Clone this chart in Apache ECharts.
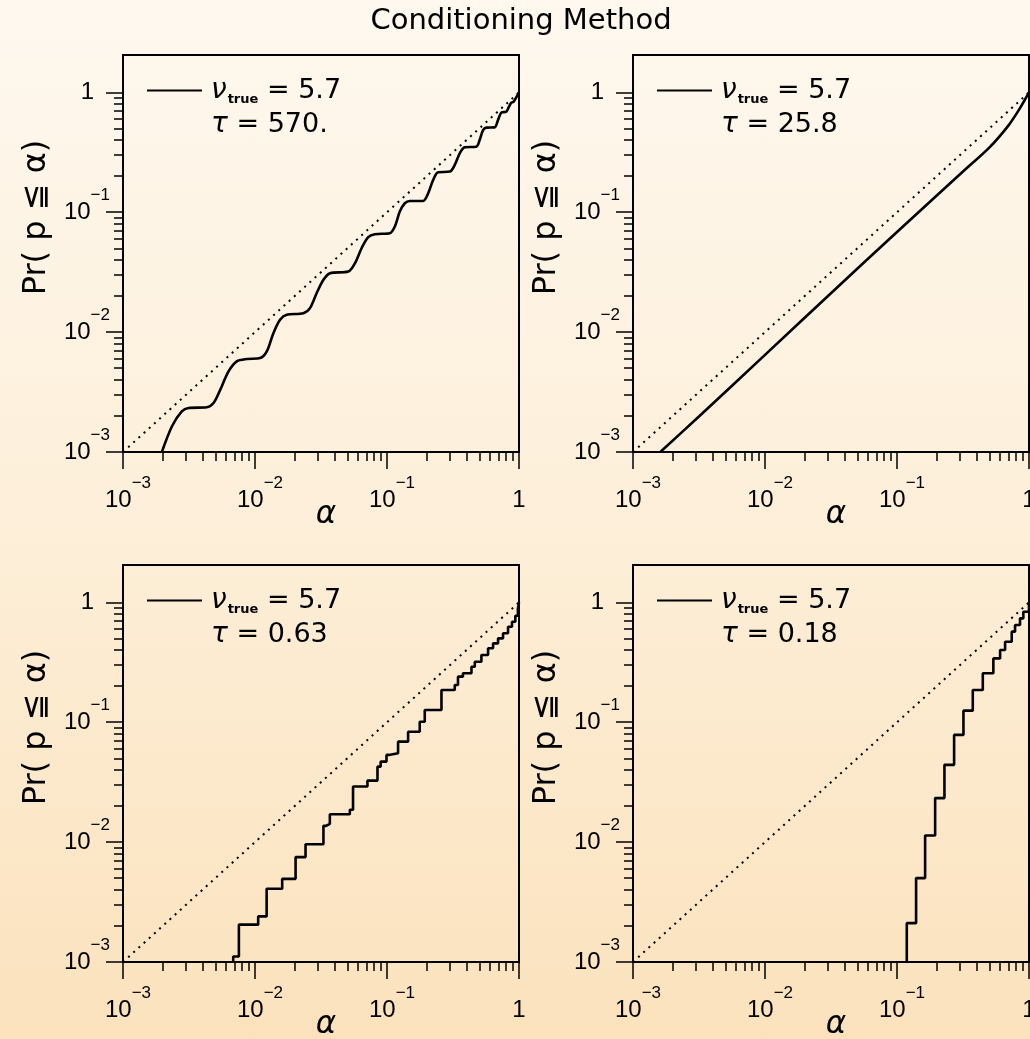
<!DOCTYPE html>
<html><head><meta charset="utf-8">
<script src="https://cdn.jsdelivr.net/npm/echarts@6/dist/echarts.min.js"></script>
<style>
html,body{margin:0;padding:0;}
#chart{width:1030px;height:1039px;background:linear-gradient(to bottom,#fef8ef 0%,#fdefd9 50%,#fbe2bd 100%);}
</style></head><body><div id="chart"></div>
<script>
// ---------- data ----------
const titleText = 'Conditioning Method';
const decadeExponents = [-3, -2, -1, 0];
const minorMultipliers = [2, 3, 4, 5, 6, 7, 8, 9];
const alphaRange = [0.001, 1];
const prRange = [0.001, 2.05];
const xName = 'α';
const yName = 'Pr( p ≦ α)';
const nuSymbol = 'ν';
const nuSub = 'true';
const nuValue = '5.7';
const tauValues = ['570.', '25.8', '0.63', '0.18'];

const diagAlpha = [0.001, 1];
const diagPr = [0.001, 1];

const p1Alpha = [0.00197, 0.00235, 0.00279, 0.00314, 0.00431, 0.00485, 0.00545, 0.0063, 0.00728, 0.00867, 0.01094, 0.01228, 0.01378, 0.01548, 0.01738, 0.02323, 0.0261, 0.0293, 0.033, 0.037, 0.0509, 0.0572, 0.0642, 0.0721, 0.0809, 0.105, 0.1147, 0.125, 0.1364, 0.149, 0.188, 0.205, 0.2236, 0.2439, 0.2987, 0.326, 0.3556, 0.388, 0.4753, 0.5036, 0.5343, 0.5662, 0.6546, 0.6935, 0.7345, 0.8013, 0.8394, 0.8745, 0.91, 0.944, 1];
const p1Pr = [0.001, 0.00164, 0.00218, 0.00233, 0.00236, 0.00256, 0.0033, 0.0047, 0.0057, 0.00596, 0.00607, 0.0069, 0.0098, 0.01267, 0.01394, 0.0144, 0.01585, 0.0211, 0.0273, 0.031, 0.032, 0.0376, 0.0501, 0.0619, 0.0656, 0.0668, 0.076, 0.1013, 0.1189, 0.1242, 0.1242, 0.1438, 0.1858, 0.2155, 0.2183, 0.2479, 0.3103, 0.348, 0.3524, 0.4009, 0.4853, 0.508, 0.5108, 0.5875, 0.6776, 0.69, 0.76, 0.8204, 0.836, 0.891, 1];

const p2Alpha = [0.00161, 0.00316, 0.01, 0.0316, 0.1, 0.3162, 0.5, 0.7, 0.85, 1];
const p2Pr = [0.001, 0.00198, 0.00646, 0.02113, 0.0684, 0.2188, 0.346, 0.531, 0.732, 1];

const p3Alpha = [0.00684, 0.00684, 0.00755, 0.01057, 0.01225, 0.01607, 0.0203, 0.02415, 0.033, 0.0345, 0.0369, 0.0523, 0.0553, 0.0711, 0.0847, 0.0895, 0.0991, 0.1033, 0.1213, 0.1445, 0.177, 0.1932, 0.2586, 0.326, 0.345, 0.376, 0.4365, 0.4625, 0.519, 0.583, 0.636, 0.694, 0.757, 0.826, 0.885, 0.938, 0.981, 1];
const p3Pr = [0.001, 0.00111, 0.00205, 0.0024, 0.00408, 0.00494, 0.0075, 0.0096, 0.01367, 0.0142, 0.0171, 0.0186, 0.0291, 0.0326, 0.0426, 0.0469, 0.0534, 0.0552, 0.0689, 0.0834, 0.101, 0.1266, 0.186, 0.2046, 0.24, 0.256, 0.29, 0.32, 0.364, 0.414, 0.455, 0.501, 0.552, 0.626, 0.689, 0.774, 0.891, 1];

const p4Alpha = [0.1186, 0.1186, 0.1395, 0.1633, 0.1945, 0.2288, 0.2708, 0.3187, 0.375, 0.4467, 0.537, 0.604, 0.659, 0.74, 0.784, 0.855, 0.906, 1];
const p4Pr = [0.001, 0.00211, 0.00501, 0.01137, 0.0233, 0.0441, 0.0784, 0.125, 0.186, 0.256, 0.341, 0.401, 0.47, 0.57, 0.647, 0.736, 0.836, 1];

// ---------- layout / style ----------
const panelLayout = [{left: 123, top: 55}, {left: 633, top: 55}, {left: 123, top: 565}, {left: 633, top: 565}];
const gridW = 396, gridH = 397;
const SANS = 'DejaVu Sans';
const NUM = 'Liberation Sans';
const INK = '#000';

const L = v => Math.log10(v);
const toPts = (xs, ys) => xs.map((x, i) => [L(x), L(ys[i])]);
const majorVals = decadeExponents.slice();
const minorVals = [];
decadeExponents.slice(0, -1).forEach(e => minorMultipliers.forEach(m => minorVals.push(e + L(m))));

const nuName = nuSymbol + ' ' + nuSub + ' = ' + nuValue;
const tauNames = tauValues.map(v => 'τ = ' + v);

function tickLabel(v, axis) {
  const e = Math.round(v);
  if (e === 0) return axis === 'x' ? '{onex|1}' : '{oney|1}';
  return (axis === 'x' ? '{bx|10}' : '{b|10}') + '{s|−' + (-e) + '}';
}
const baseTok = {fontFamily: NUM, color: INK, fontSize: 24, lineHeight: 50};
const supTok = {fontFamily: NUM, color: INK, fontSize: 17, lineHeight: 17, verticalAlign: 'top'};
const richX = {bx: Object.assign({}, baseTok, {padding: [0, 0, 0, 10]}), s: supTok, onex: baseTok};
const richY = {b: baseTok, s: supTok, oney: Object.assign({}, baseTok, {padding: [0, 16, 0, 0]})};

const panels = [
  {alpha: p1Alpha, pr: p1Pr, mode: 'smooth', smooth: 0.3},
  {alpha: p2Alpha, pr: p2Pr, mode: 'smooth', smooth: 0.3},
  {alpha: p3Alpha, pr: p3Pr, mode: 'step'},
  {alpha: p4Alpha, pr: p4Pr, mode: 'step'}
];

const grid = [], xAxis = [], yAxis = [], series = [], legend = [];
const tickLine = {color: INK, width: 1.5};

panels.forEach((p, i) => {
  const pos = panelLayout[i];
  grid.push({left: pos.left, top: pos.top, width: gridW, height: gridH, show: true,
    borderColor: INK, borderWidth: 2, backgroundColor: 'transparent', outerBoundsMode: 'none', containLabel: false});
  xAxis.push({gridIndex: i, type: 'value', min: L(alphaRange[0]), max: L(alphaRange[1]), position: 'bottom',
    axisLine: {show: true, onZero: false, lineStyle: {color: INK, width: 2}},
    axisTick: {show: true, inside: false, length: 17, lineStyle: tickLine, customValues: majorVals},
    axisLabel: {show: true, customValues: majorVals, margin: 23, formatter: v => tickLabel(v, 'x'), rich: richX},
    splitLine: {show: false},
    name: xName, nameLocation: 'middle', nameGap: 47, nameMoveOverlap: false,
    nameTextStyle: {fontFamily: SANS, fontSize: 31, fontStyle: 'italic', color: INK, padding: [0, 0, 0, 10]}
  });
  xAxis.push({gridIndex: i, type: 'value', min: L(alphaRange[0]), max: L(alphaRange[1]), position: 'bottom',
    axisLine: {show: false, onZero: false},
    axisTick: {show: true, inside: false, length: 9, lineStyle: tickLine, customValues: minorVals},
    axisLabel: {show: false}, splitLine: {show: false}
  });
  yAxis.push({gridIndex: i, type: 'value', min: L(prRange[0]), max: L(prRange[1]), position: 'left',
    axisLine: {show: true, onZero: false, lineStyle: {color: INK, width: 2}},
    axisTick: {show: true, inside: false, length: 17, lineStyle: tickLine, customValues: majorVals},
    axisLabel: {show: true, customValues: majorVals, margin: 13, formatter: v => tickLabel(v, 'y'), rich: richY},
    splitLine: {show: false},
    name: yName, nameLocation: 'middle', nameGap: 70, nameRotate: 90, nameMoveOverlap: false,
    nameTextStyle: {fontFamily: SANS, fontSize: 32, color: INK, padding: [0, 0, 0, 72]}
  });
  yAxis.push({gridIndex: i, type: 'value', min: L(prRange[0]), max: L(prRange[1]), position: 'left',
    axisLine: {show: false, onZero: false},
    axisTick: {show: true, inside: false, length: 9, lineStyle: tickLine, customValues: minorVals},
    axisLabel: {show: false}, splitLine: {show: false}
  });
  const xi = 2 * i, yi = 2 * i;
  series.push({type: 'line', xAxisIndex: xi, yAxisIndex: yi, data: toPts(diagAlpha, diagPr),
    symbol: 'none', silent: true, lineStyle: {color: INK, width: 2, type: [2, 5]}, z: 2});
  const s = {name: nuName, type: 'line', xAxisIndex: xi, yAxisIndex: yi, data: toPts(p.alpha, p.pr),
    symbol: 'none', color: INK, lineStyle: {color: INK, width: 2.6}, z: 3, clip: true};
  if (p.mode === 'smooth') { s.smooth = p.smooth; } else { s.step = 'end'; }
  series.push(s);
  series.push({name: tauNames[i], type: 'line', xAxisIndex: xi, yAxisIndex: yi, data: [],
    symbol: 'none', color: 'rgba(0,0,0,0)', lineStyle: {opacity: 0}});
  legend.push({left: pos.left + 24, top: pos.top + 20, orient: 'vertical', padding: 0,
    itemWidth: 55, itemHeight: 2, itemGap: 3, selectedMode: false,
    data: [{name: nuName, icon: 'rect', itemStyle: {color: INK}}, {name: tauNames[i], icon: 'none'}],
    formatter: name => name === nuName
      ? '{nu|' + nuSymbol + '}{sub|' + nuSub + '}{t| = ' + nuValue + '}'
      : '{tau|τ}{t| = ' + tauValues[tauNames.indexOf(name)] + '}',
    textStyle: {fontFamily: SANS, fontSize: 27, color: INK, lineHeight: 31, padding: [0, 0, 0, 4],
      rich: {
        nu: {fontFamily: SANS, fontSize: 28, fontStyle: 'italic', color: INK, lineHeight: 31},
        sub: {fontFamily: SANS, fontSize: 13, fontWeight: 'bold', color: INK, lineHeight: 13, verticalAlign: 'bottom', padding: [0, 0, 0, 1]},
        t: {fontFamily: SANS, fontSize: 27, color: INK, lineHeight: 31},
        tau: {fontFamily: SANS, fontSize: 28, fontStyle: 'italic', color: INK, lineHeight: 31}
      }}
  });
});

const chart = echarts.init(document.getElementById('chart'), null, {renderer: 'canvas'});
chart.setOption({
  animation: false,
  backgroundColor: 'transparent',
  textStyle: {fontFamily: SANS},
  title: {text: titleText, left: 521, top: 7, textAlign: 'center', padding: 0,
    textStyle: {fontFamily: SANS, fontSize: 29, fontWeight: 'normal', color: INK}},
  grid, xAxis, yAxis, series, legend
});
</script></body></html>
